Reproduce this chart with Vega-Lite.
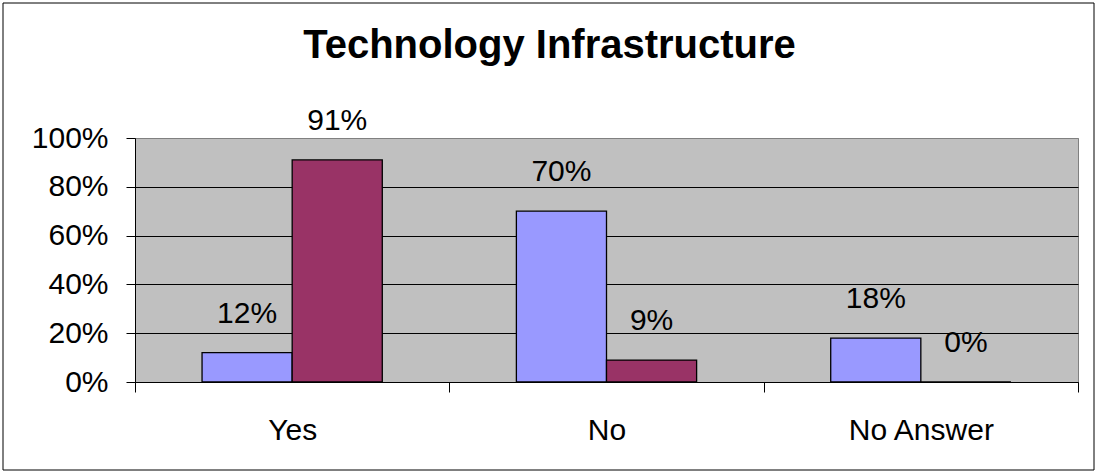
{
  "$schema": "https://vega.github.io/schema/vega-lite/v6.json",
  "width": 943,
  "height": 244,
  "autosize": {"type": "none"},
  "padding": {"left": 135, "top": 138, "right": 19, "bottom": 92},
  "background": "white",
  "title": {
    "text": "Technology Infrastructure",
    "font": "Liberation Sans",
    "fontSize": 40,
    "fontWeight": "bold",
    "color": "black",
    "anchor": "middle",
    "dx": -57,
    "baseline": "alphabetic",
    "offset": -95
  },
  "config": {
    "view": {"fill": "#C0C0C0", "stroke": "#808080", "strokeWidth": 1},
    "font": "Liberation Sans"
  },
  "data": {
    "values": [
      {"answer": "Yes", "series": "Series1", "value": 0.12},
      {"answer": "Yes", "series": "Series2", "value": 0.91},
      {"answer": "No", "series": "Series1", "value": 0.70},
      {"answer": "No", "series": "Series2", "value": 0.09},
      {"answer": "No Answer", "series": "Series1", "value": 0.18},
      {"answer": "No Answer", "series": "Series2", "value": 0.0}
    ]
  },
  "resolve": {"scale": {"x": "independent", "y": "independent"}, "axis": {"x": "independent", "y": "independent"}},
  "layer": [
    {
      "data": {"values": [{}]},
      "mark": {"type": "rect", "fillOpacity": 0, "stroke": "black", "strokeWidth": 1},
      "encoding": {
        "x": {"datum": 0, "type": "quantitative", "scale": {"domain": [0, 1], "range": [-132, 959]}, "axis": null},
        "x2": {"datum": 1},
        "y": {"datum": 0, "type": "quantitative", "scale": {"domain": [0, 1], "range": [-135, 332]}, "axis": null},
        "y2": {"datum": 1}
      }
    },
    {
      "encoding": {
        "x": {
          "field": "answer",
          "type": "nominal",
          "sort": ["Yes", "No", "No Answer"],
          "scale": {"paddingInner": 0, "paddingOuter": 0},
          "axis": {
            "title": null,
            "labelAngle": 0,
            "tickBand": "extent",
            "tickSize": 10,
            "tickColor": "black",
            "tickWidth": 1,
            "domainColor": "black",
            "domainWidth": 1,
            "labelFontSize": 30,
            "labelFont": "Liberation Sans",
            "labelColor": "black",
            "labelPadding": 23,
            "grid": false
          }
        },
        "xOffset": {
          "field": "series",
          "type": "nominal",
          "scale": {"paddingInner": 0, "paddingOuter": 0.744}
        },
        "y": {
          "field": "value",
          "type": "quantitative",
          "scale": {"domain": [0, 1]},
          "axis": {
            "title": null,
            "values": [0, 0.2, 0.4, 0.6, 0.8, 1],
            "format": ".0%",
            "tickSize": 9,
            "tickColor": "black",
            "domainColor": "black",
            "labelFontSize": 30,
            "labelFont": "Liberation Sans",
            "labelColor": "black",
            "labelPadding": 18,
            "labelFlush": false,
            "labelOverlap": false,
            "grid": true,
            "gridColor": {"condition": {"test": "datum.value >= 1", "value": "#808080"}, "value": "black"},
            "gridOpacity": 1,
            "gridWidth": 1
          }
        }
      },
      "layer": [
        {
          "mark": {"type": "bar", "stroke": "black", "strokeWidth": 1.3},
          "encoding": {
            "color": {
              "field": "series",
              "type": "nominal",
              "scale": {"domain": ["Series1", "Series2"], "range": ["#9999FF", "#993366"]},
              "legend": null
            }
          }
        },
        {
          "mark": {"type": "text", "dy": -30, "baseline": "alphabetic", "fontSize": 30, "font": "Liberation Sans", "color": "black"},
          "encoding": {
            "text": {"field": "value", "type": "quantitative", "format": ".0%"}
          }
        }
      ]
    }
  ]
}
